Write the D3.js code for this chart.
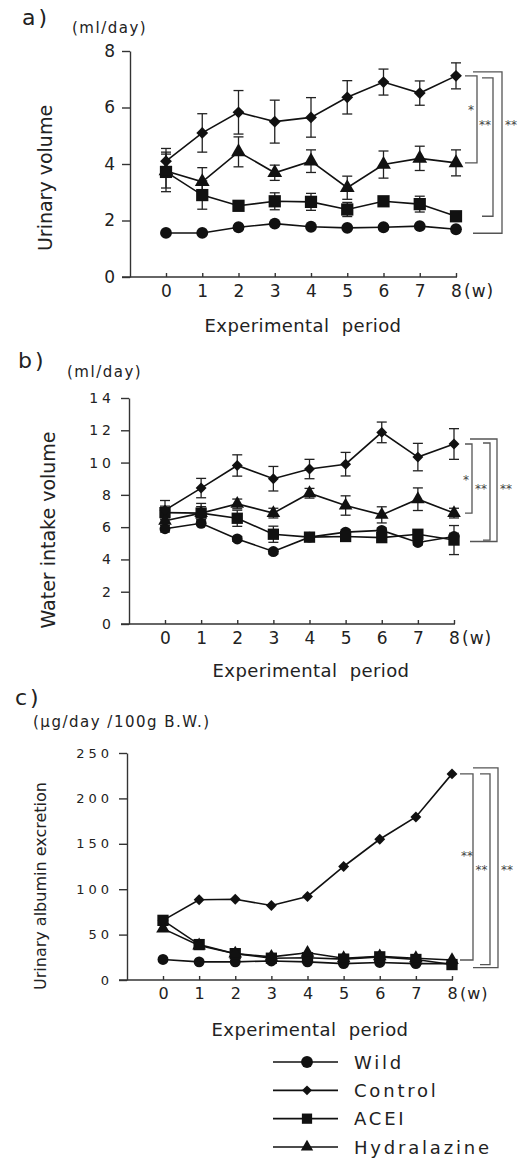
<!DOCTYPE html>
<html lang="en">
<head>
<meta charset="UTF-8">
<title>Urinary volume, water intake and albumin excretion</title>
<script src="https://d3js.org/d3.v7.min.js"></script>
<style>
  body { margin: 0; background: #fff; }
  svg text { font-family: "DejaVu Sans", sans-serif; fill: #222; }
  .series { fill: none; stroke: #111; stroke-width: 1.6; }
  .err { stroke: #222; stroke-width: 1.3; }
  .axis path, .axis line { stroke: #333; stroke-width: 1.4; }
  .bracket { fill: none; stroke: #555; stroke-width: 1.3; }
  .star { font-size: 12px; fill: #444; }
</style>
</head>
<body>
<svg width="522" height="1161"></svg>
<script>
// ---- data ----
const weeks = [0, 1, 2, 3, 4, 5, 6, 7, 8];
const groups = ["Wild", "Control", "ACEI", "Hydralazine"];

// a) urinary volume (ml/day)
const urineWild     = [1.56, 1.56, 1.76, 1.89, 1.78, 1.74, 1.76, 1.80, 1.69];
const urineControl  = [4.10, 5.10, 5.83, 5.50, 5.65, 6.36, 6.90, 6.51, 7.12];
const urineAcei     = [3.72, 2.90, 2.52, 2.68, 2.66, 2.39, 2.68, 2.58, 2.15];
const urineHydral   = [3.75, 3.37, 4.43, 3.69, 4.10, 3.16, 3.98, 4.20, 4.04];
const urineWildErr    = [0, 0, 0, 0, 0, 0, 0, 0, 0];
const urineControlErr = [0.45, 0.68, 0.77, 0.76, 0.70, 0.59, 0.46, 0.43, 0.46];
const urineAceiErr    = [0.70, 0.50, 0.10, 0.30, 0.30, 0.25, 0.12, 0.28, 0.10];
const urineHydralErr  = [0.60, 0.50, 0.53, 0.27, 0.40, 0.41, 0.48, 0.43, 0.46];
const urineTicks = [0, 2, 4, 6, 8];

// b) water intake volume (ml/day)
const waterWild     = [5.90, 6.24, 5.27, 4.49, 5.38, 5.69, 5.80, 5.05, 5.42];
const waterControl  = [7.05, 8.42, 9.82, 9.00, 9.60, 9.90, 11.87, 10.34, 11.15];
const waterAcei     = [6.90, 6.87, 6.55, 5.56, 5.38, 5.42, 5.35, 5.56, 5.20];
const waterHydral   = [6.40, 6.87, 7.44, 6.87, 8.10, 7.34, 6.76, 7.73, 6.87];
const waterWildErr    = [0.20, 0.15, 0.15, 0.15, 0.15, 0.15, 0.15, 0.15, 0.20];
const waterControlErr = [0.60, 0.60, 0.66, 0.76, 0.60, 0.73, 0.64, 0.85, 0.95];
const waterAceiErr    = [0.40, 0.40, 0.50, 0.50, 0.20, 0.20, 0.20, 0.20, 0.90];
const waterHydralErr  = [0.50, 0.60, 0.30, 0.30, 0.30, 0.60, 0.50, 0.70, 0.30];
const waterTicks = [0, 2, 4, 6, 8, 10, 12, 14];

// c) urinary albumin excretion (ug/day/100g B.W.)
const albWild     = [22.6, 20, 20, 21, 20, 18, 19.3, 18, 18];
const albControl  = [65.7, 88.3, 89, 82, 92, 125, 155, 179.6, 227];
const albAcei     = [65.7, 39, 29, 24, 24.5, 23, 25.5, 22.6, 17];
const albHydral   = [56.6, 38, 29, 25.5, 30, 24, 26, 24, 22];
const albTicks = [0, 50, 100, 150, 200, 250];

// significance vs Control at week 8
const sigPairs = ["Hydralazine", "ACEI", "Wild"];
const sigA = ["*", "**", "**"];
const sigB = ["*", "**", "**"];
const sigC = ["**", "**", "**"];

// ---- layout ----
const svg = d3.select("svg");

const markerOf = {
  "Wild":        {type: d3.symbolCircle,   size: 110, rot: 0},
  "Control":     {type: d3.symbolSquare,   size: 70,  rot: 45},
  "ACEI":        {type: d3.symbolSquare,   size: 150, rot: 0},
  "Hydralazine": {type: d3.symbolTriangle, size: 95,  rot: 0}
};

const panels = [
  {
    letter: "a)", unit: "(ml/day)", ylabel: "Urinary volume",
    series: {Wild: urineWild, Control: urineControl, ACEI: urineAcei, Hydralazine: urineHydral},
    errs: {Wild: urineWildErr, Control: urineControlErr, ACEI: urineAceiErr, Hydralazine: urineHydralErr},
    ticks: urineTicks, sig: sigA,
    x0: 166, x8: 456, yAxisX: 130, yTop: 51, yBot: 277, yMax: 8,
    letterPos: [22, 25], unitPos: [72, 33], ylabelPos: [45, 178], ylabelSize: 19,
    yTickSize: 17, yTickSpacing: 1, xTickSize: 17, titleY: 332, titleX: 303,
    brV: [21, 37, 46], brH: [9, 26, 17], brTopPad: [0, -2, 4], brBotPad: [0, 0, 4],
    starY: [110, 125, 125]
  },
  {
    letter: "b)", unit: "(ml/day)", ylabel: "Water intake volume",
    series: {Wild: waterWild, Control: waterControl, ACEI: waterAcei, Hydralazine: waterHydral},
    errs: {Wild: waterWildErr, Control: waterControlErr, ACEI: waterAceiErr, Hydralazine: waterHydralErr},
    ticks: waterTicks, sig: sigB,
    x0: 165, x8: 454, yAxisX: 129, yTop: 398, yBot: 624, yMax: 14,
    letterPos: [18, 368], unitPos: [67, 377], ylabelPos: [48, 530], ylabelSize: 19,
    yTickSize: 14, yTickSpacing: 4, xTickSize: 17, titleY: 677, titleX: 311,
    brV: [18, 36, 43], brH: [11, 29, 16], brTopPad: [0, 1, 5], brBotPad: [0, 0, 5],
    starY: [480, 489, 489]
  },
  {
    letter: "c)", unit: "(µg/day  /100g  B.W.)", ylabel: "Urinary albumin excretion",
    series: {Wild: albWild, Control: albControl, ACEI: albAcei, Hydralazine: albHydral},
    errs: null,
    ticks: albTicks, sig: sigC,
    x0: 163, x8: 452, yAxisX: 127, yTop: 753, yBot: 980, yMax: 250,
    letterPos: [15, 705], unitPos: [33, 727], ylabelPos: [40, 886], ylabelSize: 16,
    yTickSize: 13, yTickSpacing: 4, xTickSize: 16, titleY: 1036, titleX: 310,
    brV: [21, 38, 46], brH: [8, 28, 21], brTopPad: [0, 0, 6], brBotPad: [0, 0, 4],
    starY: [856, 870, 870]
  }
];

function symbolPath(g, scale) {
  const m = markerOf[g];
  return d3.symbol().type(m.type).size(m.size * (scale || 1))();
}

panels.forEach(p => {
  const x = d3.scaleLinear().domain([0, 8]).range([p.x0, p.x8]);
  const y = d3.scaleLinear().domain([0, p.yMax]).range([p.yBot, p.yTop]);
  const g = svg.append("g");

  // panel letter and units
  g.append("text").attr("x", p.letterPos[0]).attr("y", p.letterPos[1])
    .style("font-size", "22px").style("letter-spacing", "3px").text(p.letter);
  g.append("text").attr("x", p.unitPos[0]).attr("y", p.unitPos[1])
    .style("font-size", "15px").style("letter-spacing", "1.5px").text(p.unit);

  // y axis
  const yAxis = g.append("g").attr("class", "axis")
    .attr("transform", `translate(${p.yAxisX},0)`)
    .call(d3.axisLeft(y).tickValues(p.ticks).tickSize(8).tickSizeOuter(0).tickPadding(6));
  yAxis.selectAll("text")
    .style("font-size", p.yTickSize + "px")
    .style("letter-spacing", p.yTickSpacing + "px")
    .attr("fill", "#222");

  // x axis: line extends left past the y axis, ticks point up
  const xAxis = g.append("g").attr("class", "axis")
    .attr("transform", `translate(0,${p.yBot})`)
    .call(d3.axisBottom(x).tickValues(weeks).tickSize(-4).tickPadding(8).tickFormat(d3.format("d")));
  xAxis.select(".domain").remove();
  xAxis.append("line").attr("x1", p.yAxisX - 8).attr("x2", p.x8 + 1)
    .attr("y1", 0).attr("y2", 0).attr("stroke", "#333").attr("stroke-width", 1.4);
  xAxis.selectAll("text").style("font-size", p.xTickSize + "px").attr("fill", "#222");
  g.append("text").attr("x", p.x8 + 8).attr("y", p.yBot + 8).attr("dy", "0.71em")
    .style("font-size", p.xTickSize + "px").style("letter-spacing", "1px").text("(w)");

  // axis titles
  g.append("text").attr("x", p.titleX).attr("y", p.titleY).attr("text-anchor", "middle")
    .style("font-size", "18px").style("letter-spacing", "0.4px")
    .text("Experimental  period").attr("xml:space", "preserve");
  g.append("text")
    .attr("transform", `translate(${p.ylabelPos[0]},${p.ylabelPos[1]}) rotate(-90)`)
    .attr("text-anchor", "middle").attr("dominant-baseline", "central")
    .style("font-size", p.ylabelSize + "px").text(p.ylabel);

  // lines
  const line = d3.line().x((d, i) => x(weeks[i])).y(d => y(d));
  ["Wild", "ACEI", "Hydralazine", "Control"].forEach(name => {
    g.append("path").attr("class", "series").attr("d", line(p.series[name]));
  });

  // error bars
  if (p.errs) {
    groups.forEach(name => {
      const vals = p.series[name], errs = p.errs[name];
      weeks.forEach((w, i) => {
        const e = errs[i];
        if (!e) return;
        const cx = x(w), yt = y(vals[i] + e), yb = y(vals[i] - e);
        g.append("line").attr("class", "err").attr("x1", cx).attr("x2", cx).attr("y1", yt).attr("y2", yb);
        [yt, yb].forEach(yy => g.append("line").attr("class", "err")
          .attr("x1", cx - 5).attr("x2", cx + 5).attr("y1", yy).attr("y2", yy));
      });
    });
  }

  // markers
  const mScale = p.letter === "a)" ? 1 : 0.85;
  ["Wild", "ACEI", "Hydralazine", "Control"].forEach(name => {
    g.selectAll(null).data(p.series[name]).enter().append("path")
      .attr("d", symbolPath(name, mScale))
      .attr("transform", (d, i) => `translate(${x(weeks[i])},${y(d)}) rotate(${markerOf[name].rot})`)
      .attr("fill", "#111");
  });

  // significance brackets against Control at week 8
  const xEnd = x(8);
  const ctrlY = y(p.series.Control[8]);
  sigPairs.forEach((other, k) => {
    const vx = xEnd + p.brV[k], hx = xEnd + p.brH[k];
    const top = ctrlY - p.brTopPad[k];
    const bot = y(p.series[other][8]) + p.brBotPad[k];
    g.append("path").attr("class", "bracket")
      .attr("d", `M${hx},${top}H${vx}V${bot}H${hx}`);
  });
  const v = p.brV.map(o => xEnd + o);
  const starX = [v[0] - 6, (v[0] + v[1]) / 2, v[2] + 9];
  p.sig.forEach((s, k) => {
    g.append("text").attr("class", "star").attr("x", starX[k]).attr("y", p.starY[k])
      .attr("text-anchor", "middle").attr("dominant-baseline", "central").text(s);
  });
});

// legend
const legendY = d3.scalePoint().domain(groups).range([1062, 1147]);
const leg = svg.append("g");
groups.forEach(name => {
  const yy = legendY(name);
  leg.append("line").attr("x1", 273).attr("x2", 338).attr("y1", yy).attr("y2", yy)
    .attr("stroke", "#111").attr("stroke-width", 1.6);
  leg.append("path").attr("d", symbolPath(name, name === "Wild" ? 1 : 0.7))
    .attr("transform", `translate(307,${yy}) rotate(${markerOf[name].rot})`).attr("fill", "#111");
  leg.append("text").attr("x", 354).attr("y", yy).attr("dominant-baseline", "central")
    .style("font-size", "18px").style("letter-spacing", "2.8px").text(name);
});
</script>
</body>
</html>
